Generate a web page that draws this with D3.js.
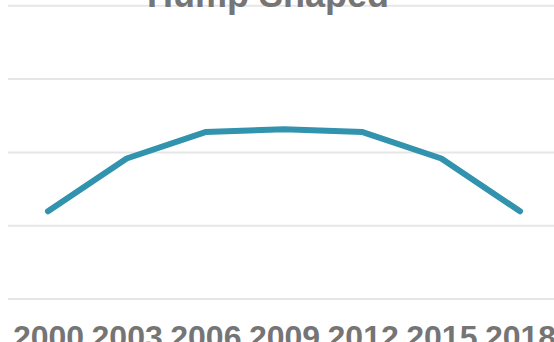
<!DOCTYPE html>
<html>
<head>
<meta charset="utf-8">
<script src="https://cdn.jsdelivr.net/npm/d3@7"></script>
<style>
  html, body { margin: 0; padding: 0; background: #ffffff; overflow: hidden; }
  svg { display: block; }
</style>
</head>
<body>
<svg id="chart" width="554" height="342"></svg>
<script>
const title = "Hump Shaped";
const years = ["2000", "2003", "2006", "2009", "2012", "2015", "2018"];
const values = [11.9, 19.1, 22.7, 23.1, 22.7, 19.1, 11.9];
const gridTicks = [0, 10, 20, 30, 40];

const svg = d3.select("#chart");
const W = 554, H = 342;

const x = d3.scalePoint().domain(years).range([48, 520]);
const y = d3.scaleLinear().domain([0, 40]).range([298.5, 5.3]);

// gridlines
const yAxis = d3.axisLeft(y).tickValues(gridTicks).tickSize(-(W + 10 - 8)).tickFormat("");
const gy = svg.append("g").attr("transform", "translate(8,0)").call(yAxis);
gy.select(".domain").remove();
gy.selectAll(".tick line").attr("stroke", "#e6e6e6").attr("stroke-width", 2);

// x axis labels
const xAxis = d3.axisBottom(x).tickSize(0).tickPadding(0);
const gx = svg.append("g").attr("transform", "translate(0,323)").call(xAxis);
gx.select(".domain").remove();
gx.selectAll(".tick text")
  .attr("fill", "#757575")
  .attr("dy", 0)
  .attr("y", 24.5)
  .style("font-family", "'Liberation Sans', Arial, sans-serif")
  .style("font-weight", "bold")
  .style("font-size", "32px");

// line
const line = d3.line().x((d, i) => x(years[i])).y(d => y(d));
svg.append("path")
  .datum(values)
  .attr("d", line)
  .attr("fill", "none")
  .attr("stroke", "#3193ad")
  .attr("stroke-width", 6)
  .attr("stroke-linejoin", "round")
  .attr("stroke-linecap", "round");

// title
svg.append("text")
  .attr("x", 268)
  .attr("y", 7)
  .attr("text-anchor", "middle")
  .attr("fill", "#757575")
  .style("font-family", "'Liberation Sans', Arial, sans-serif")
  .style("font-weight", "bold")
  .style("font-size", "36px")
  .text(title);
</script>
</body>
</html>
